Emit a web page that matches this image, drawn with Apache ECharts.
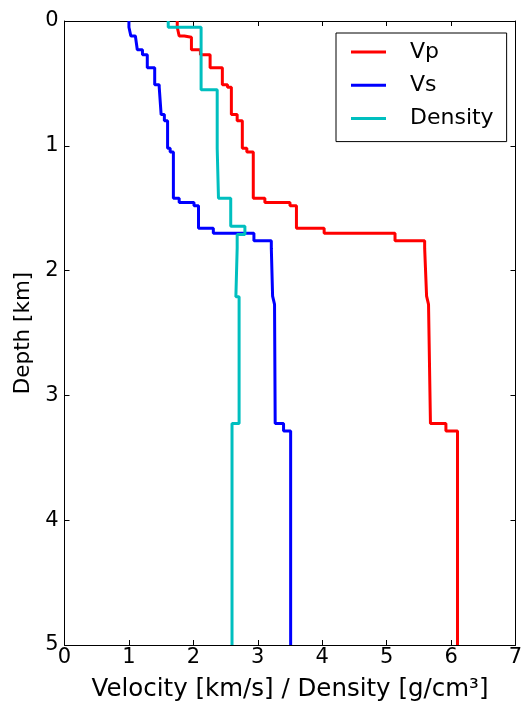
<!DOCTYPE html>
<html>
<head>
<meta charset="utf-8">
<script src="https://cdn.jsdelivr.net/npm/echarts@6/dist/echarts.min.js"></script>
<style>
  html, body { margin: 0; padding: 0; background: #fff; }
  #chart { width: 523px; height: 706px; }
</style>
</head>
<body>
<div id="chart"></div>
<script>
// Layered velocity model: layer top depths (km) and layer values
const layerTops = [0, 0.05, 0.12, 0.13, 0.23, 0.27, 0.375, 0.51, 0.53, 0.75, 0.80, 1.02, 1.05,
  1.42, 1.455, 1.48, 1.66, 1.70, 1.76, 1.82, 2.205, 2.27, 3.225, 3.285];
const vp = [1.75, 1.78, 1.86, 1.97, 2.11, 2.26, 2.45, 2.53, 2.59, 2.68, 2.76, 2.83, 2.93,
  3.11, 3.50, 3.60, 4.03, 5.13, 5.59, 5.62, 5.65, 5.68, 5.92, 6.10];
const vs = [1.00, 1.03, 1.10, 1.13, 1.21, 1.285, 1.40, 1.47, 1.50, 1.55, 1.60, 1.64, 1.69,
  1.78, 2.01, 2.08, 2.31, 2.94, 3.21, 3.23, 3.26, 3.27, 3.40, 3.51];
const densityTops = [0, 0.05, 0.55, 1.02, 1.42, 1.645, 1.71, 1.82, 2.21, 3.225];
const density = [1.61, 2.12, 2.37, 2.39, 2.58, 2.80, 2.68, 2.66, 2.71, 2.60];
const maxDepth = 5;
const xTicks = [0, 1, 2, 3, 4, 5, 6, 7];

// Turn layer tops + values into a staircase profile of [value, depth] points
function profile(tops, vals) {
  const pts = [];
  for (let i = 0; i < vals.length; i++) {
    const bottom = i + 1 < tops.length ? tops[i + 1] : maxDepth;
    pts.push([vals[i], tops[i]]);
    pts.push([vals[i], bottom]);
  }
  return pts;
}

const font = 'DejaVu Sans';
const frame = { show: true, onZero: false, lineStyle: { color: '#000', width: 1 } };
const tick = { show: true, inside: true, length: 5, lineStyle: { color: '#000', width: 1 } };

const chart = echarts.init(document.getElementById('chart'), null, { renderer: 'canvas' });
chart.setOption({
  animation: false,
  backgroundColor: '#fff',
  grid: { left: 64.5, right: 7.5, top: 21, bottom: 61, containLabel: false, outerBoundsMode: 'none' },
  legend: {
    orient: 'vertical',
    left: 336,
    top: 33,
    icon: 'rect',
    itemWidth: 35,
    itemHeight: 3,
    itemGap: 11.3,
    padding: [8, 13, 12, 15],
    borderColor: '#000',
    borderWidth: 1,
    borderRadius: 0,
    textStyle: { fontFamily: font, fontSize: 22, color: '#000', lineHeight: 22, padding: [0, 0, 0, 19] },
    data: ['Vp', 'Vs', 'Density']
  },
  xAxis: [
    {
      type: 'value', position: 'bottom', min: 0, max: 7, interval: 1,
      name: 'Velocity [km/s] / Density [g/cm³]',
      nameLocation: 'middle', nameGap: 32,
      nameTextStyle: { fontFamily: font, fontSize: 24.5, color: '#000' },
      axisLine: frame, axisTick: tick, splitLine: { show: false },
      axisLabel: { fontFamily: font, fontSize: 21, color: '#000', margin: 2,
        formatter: v => (xTicks.includes(v) ? String(v) : '') }
    },
    {
      type: 'value', position: 'top', min: 0, max: 7, interval: 1,
      axisLine: frame, axisTick: tick, splitLine: { show: false }, axisLabel: { show: false }
    }
  ],
  yAxis: [
    {
      type: 'value', position: 'left', min: 0, max: maxDepth, interval: 1, inverse: true,
      name: 'Depth [km]', nameLocation: 'middle', nameGap: 29,
      nameTextStyle: { fontFamily: font, fontSize: 21.5, color: '#000' },
      axisLine: frame, axisTick: tick, splitLine: { show: false },
      axisLabel: { fontFamily: font, fontSize: 21, color: '#000', margin: 6 }
    },
    {
      type: 'value', position: 'right', min: 0, max: maxDepth, interval: 1, inverse: true,
      axisLine: frame, axisTick: tick, splitLine: { show: false }, axisLabel: { show: false }
    }
  ],
  series: [
    { name: 'Vp', type: 'line', data: profile(layerTops, vp), showSymbol: false, symbol: 'none',
      color: '#ff0000', lineStyle: { width: 3, color: '#ff0000' } },
    { name: 'Vs', type: 'line', data: profile(layerTops, vs), showSymbol: false, symbol: 'none',
      color: '#0000ff', lineStyle: { width: 3, color: '#0000ff' } },
    { name: 'Density', type: 'line', data: profile(densityTops, density), showSymbol: false, symbol: 'none',
      color: '#00bfbf', lineStyle: { width: 3, color: '#00bfbf' } }
  ]
});
</script>
</body>
</html>
